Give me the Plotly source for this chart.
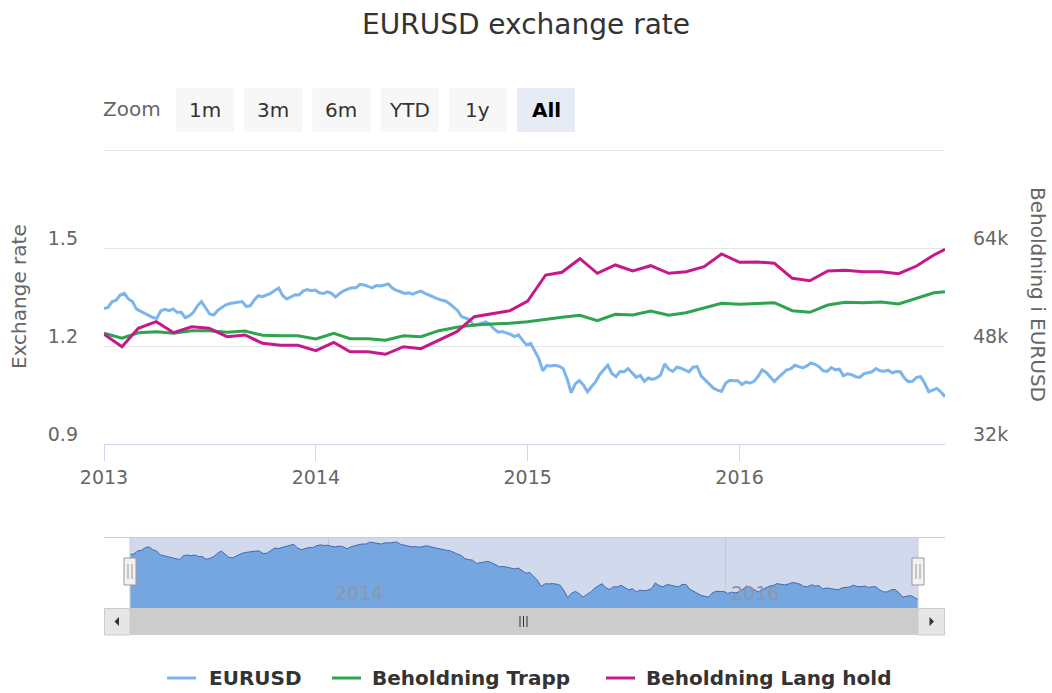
import plotly.graph_objects as go
import pandas as pd

W, H = 1052, 693
FONT = "DejaVu Sans"


def px(x):
    return x / W


def py(y):
    return 1 - y / H


# ---------------- data ----------------
eurusd = [
    1.315, 1.318, 1.336, 1.340, 1.356, 1.361, 1.344, 1.336, 1.313, 1.307,
    1.299, 1.295, 1.287, 1.285, 1.308, 1.312, 1.308, 1.313, 1.303, 1.303,
    1.287, 1.292, 1.303, 1.323, 1.336, 1.317, 1.298, 1.295, 1.309, 1.318,
    1.326, 1.330, 1.332, 1.336, 1.336, 1.321, 1.323, 1.341, 1.354, 1.351,
    1.356, 1.361, 1.370, 1.377, 1.354, 1.344, 1.350, 1.357, 1.356, 1.368,
    1.373, 1.369, 1.371, 1.363, 1.361, 1.366, 1.361, 1.350, 1.361, 1.369,
    1.374, 1.378, 1.378, 1.389, 1.387, 1.382, 1.378, 1.385, 1.384, 1.387,
    1.390, 1.377, 1.370, 1.366, 1.361, 1.363, 1.359, 1.364, 1.368, 1.361,
    1.355, 1.350, 1.345, 1.341, 1.338, 1.330, 1.318, 1.309, 1.290, 1.285,
    1.281, 1.262, 1.266, 1.271, 1.274, 1.266, 1.252, 1.242, 1.244, 1.240,
    1.236, 1.229, 1.234, 1.218, 1.203,
    1.208, 1.184, 1.162, 1.124, 1.140, 1.139, 1.141, 1.138, 1.131, 1.099,
    1.057, 1.084, 1.094, 1.081, 1.060, 1.076, 1.090, 1.113, 1.127, 1.141,
    1.116, 1.106, 1.122, 1.121, 1.131, 1.118, 1.104, 1.110, 1.092, 1.102,
    1.098, 1.102, 1.111, 1.145, 1.129, 1.122, 1.135, 1.132, 1.126, 1.121,
    1.135, 1.137, 1.108, 1.096, 1.085, 1.071, 1.065, 1.061, 1.086, 1.095,
    1.094, 1.094, 1.082, 1.090, 1.086, 1.092, 1.107, 1.127, 1.119, 1.105,
    1.091, 1.104, 1.115, 1.126, 1.130, 1.141, 1.137, 1.133, 1.139, 1.148,
    1.144, 1.137, 1.124, 1.122, 1.134, 1.127, 1.129, 1.109, 1.115, 1.112,
    1.106, 1.104, 1.115, 1.119, 1.121, 1.131, 1.124, 1.123, 1.126, 1.118,
    1.122, 1.121, 1.102, 1.091, 1.092, 1.104, 1.106, 1.086, 1.060, 1.065,
    1.070, 1.059, 1.045,
]
eur_dates = pd.date_range("2013-01-01", periods=len(eurusd), freq="7D")

month_dates = list(pd.date_range("2013-01-01", periods=48, freq="MS").strftime("%Y-%m-%d")) + ["2016-12-20"]

trapp = [
    50070, 49260, 50170, 50340, 50070, 50500, 50500, 50240, 50450, 49750, 49680, 49680,
    49140, 50070, 49190, 49190, 48930, 49680, 49520, 50500, 51050, 51430, 51590, 51710,
    51970, 52410, 52690, 53010, 52130, 53180, 53060, 53720, 53010, 53440, 54160, 54970,
    54810, 54970, 55070, 53760, 53500, 54690, 55140, 55070, 55180, 54860, 55790, 56700,
    56870,
]
lang_hold = [
    49910, 47890, 50890, 51970, 50170, 51150, 50890, 49520, 49800, 48440, 48110, 48110,
    47230, 48600, 47070, 47070, 46650, 47890, 47560, 48980, 50340, 52780, 53340, 53760,
    55350, 59590, 60030, 62250, 59870, 61230, 60250, 61110, 59870, 60130, 60950, 63020,
    61670, 61720, 61500, 59050, 58660, 60250, 60360, 60130, 60130, 59800, 61060, 62860,
    63790,
]

x_range = ["2013-01-01", "2016-12-20"]
year_ticks = ["2013-01-01", "2014-01-01", "2015-01-01", "2016-01-01"]
year_labels = ["2013", "2014", "2015", "2016"]
left_ticks = [0.9, 1.2, 1.5, 1.8]
left_labels = ["0.9", "1.2", "1.5", ""]
right_ticks = [32000, 48000, 64000, 80000]
right_labels = ["32k", "48k", "64k", ""]
nav_ticks = ["2014-01-01", "2016-01-01"]
nav_labels = ["2014", "2016"]
zoom_buttons = ["1m", "3m", "6m", "YTD", "1y", "All"]
series_names = ["EURUSD", "Beholdning Trapp", "Beholdning Lang hold"]
colors = ["#7cb5ec", "#2ea44f", "#c7188b"]

# ---------------- traces ----------------
fig = go.Figure()
fig.add_trace(go.Scatter(x=eur_dates, y=eurusd, name=series_names[0], mode="lines",
                         line=dict(color=colors[0], width=3), xaxis="x", yaxis="y"))
fig.add_trace(go.Scatter(x=month_dates, y=trapp, name=series_names[1], mode="lines",
                         line=dict(color=colors[1], width=3), xaxis="x", yaxis="y2"))
fig.add_trace(go.Scatter(x=month_dates, y=lang_hold, name=series_names[2], mode="lines",
                         line=dict(color=colors[2], width=3), xaxis="x", yaxis="y2"))
# navigator series
fig.add_trace(go.Scatter(x=eur_dates, y=eurusd, mode="lines", fill="tozeroy",
                         fillcolor="#7cb5ec", line=dict(color="#335cad", width=1),
                         xaxis="x2", yaxis="y3", hoverinfo="skip"))

shapes = []
annotations = []


def rect(x0, y0, x1, y1, fill, line=None, lw=1, layer="above"):
    shapes.append(dict(type="rect", xref="paper", yref="paper",
                       x0=px(x0), x1=px(x1), y0=py(y1), y1=py(y0),
                       fillcolor=fill, layer=layer,
                       line=dict(color=line or fill, width=lw if line else 0)))


def seg(x0, y0, x1, y1, color, w=1, layer="above"):
    shapes.append(dict(type="line", xref="paper", yref="paper",
                       x0=px(x0), x1=px(x1), y0=py(y0), y1=py(y1),
                       line=dict(color=color, width=w), layer=layer))


def tri(pts, color):
    d = "M " + " L ".join(f"{px(a):.5f},{py(b):.5f}" for a, b in pts) + " Z"
    shapes.append(dict(type="path", xref="paper", yref="paper", path=d,
                       fillcolor=color, line=dict(color=color, width=0), layer="above"))


def text(x, y, s, size, color, xanchor="center", bold=False, angle=0, xref="paper", xshift=0):
    annotations.append(dict(x=x, y=y, xref=xref, yref="paper", text=s, showarrow=False,
                            xanchor=xanchor, yanchor="middle", textangle=angle, xshift=xshift,
                            font=dict(family=FONT, size=size, color=color,
                                      weight="bold" if bold else "normal")))


# top grid line of the plot area (1.8 / 80k, unlabeled)
seg(104, 150.5, 945, 150.5, "#e6e6e6", layer="below")

# title
text(0.5, py(25), "EURUSD exchange rate", 28, "#333333")

# range selector
text(px(163), py(109), "Zoom", 20, "#666666", xanchor="right")
btn_left = 176
for i, lab in enumerate(zoom_buttons):
    x0 = btn_left + i * 68.2
    sel = lab == "All"
    rect(x0, 88, x0 + 58, 132, "#e6ebf5" if sel else "#f7f7f7")
    text(px(x0 + 29), py(110), lab, 20, "#000000" if sel else "#333333", bold=sel)

# axis titles
text(px(19), py(297), "Exchange rate", 20, "#666666", angle=-90)
text(px(1038), py(294), "Beholdning i EURUSD", 20, "#666666", angle=90)

# navigator decorations
rect(130, 537, 918, 608, "rgba(102,133,194,0.3)")
seg(104, 537.5, 945, 537.5, "#cccccc")
seg(130, 537, 130, 608, "#cccccc")
seg(918, 537, 918, 608, "#cccccc")
for c in (130, 918):
    rect(c - 6, 558, c + 6, 585, "#f2f2f2", line="#999999")
    seg(c - 2, 564, c - 2, 579, "#999999")
    seg(c + 2, 564, c + 2, 579, "#999999")
for d, lab in zip(nav_ticks, nav_labels):
    text(d, py(593), lab, 19, "#8f96a8", xanchor="left", xref="x2", xshift=4)

# scrollbar
rect(104, 608, 945, 635, "#f2f2f2")
rect(130, 608, 918, 635, "#cccccc")
rect(104.5, 608.5, 130, 635, "#e6e6e6", line="#cccccc")
rect(918, 608.5, 944.5, 635, "#e6e6e6", line="#cccccc")
tri([(114.5, 621.5), (119, 617), (119, 626)], "#333333")
tri([(934, 621.5), (929.5, 617), (929.5, 626)], "#333333")
for xx in (520, 523.5, 527):
    seg(xx, 616, xx, 627, "#333333")

# legend
leg_sym = [(167, 196), (332, 361), (606, 635)]
leg_txt = [207, 370, 644]
for (a, b), tx, name, col in zip(leg_sym, leg_txt, series_names, colors):
    seg(a, 678, b, 678, col, 3)
    text(px(tx), py(678), name, 20, "#333333", xanchor="left", bold=True)

tickfont = dict(family=FONT, size=19, color="#666666")
fig.update_layout(
    autosize=True, margin=dict(l=0, r=0, t=0, b=0, pad=0, autoexpand=False),
    paper_bgcolor="white", plot_bgcolor="white", showlegend=False,
    font=dict(family=FONT, color="#666666"),
    xaxis=dict(domain=[px(104), px(945)], range=x_range, type="date", anchor="y",
               tickmode="array", tickvals=year_ticks, ticktext=year_labels,
               ticks="outside", ticklen=16, tickwidth=1, tickcolor="#ccd6eb",
               showline=True, linecolor="#ccd6eb", linewidth=1, automargin=False,
               showgrid=False, zeroline=False, tickfont=tickfont),
    yaxis=dict(domain=[py(444), py(150)], range=[0.9, 1.80001], anchor="x",
               tickmode="array", tickvals=left_ticks, ticktext=left_labels,
               showgrid=True, gridcolor="#e6e6e6", gridwidth=1, zeroline=False,
               showline=False, ticks="", tickfont=tickfont, automargin=False,
               ticklabelshift=-10, ticklabelstandoff=25),
    yaxis2=dict(overlaying="y", side="right", anchor="x", range=[32000, 80000.5],
                tickmode="array", tickvals=right_ticks, ticktext=right_labels,
                showgrid=False, zeroline=False, showline=False, ticks="", automargin=False,
                tickfont=tickfont, ticklabelshift=-10, ticklabelstandoff=27),
    xaxis2=dict(domain=[px(130), px(918)], range=x_range, type="date", anchor="y3",
                showgrid=True, gridcolor="#e6e6e6", tickmode="array", tickvals=nav_ticks,
                showticklabels=False, ticks="", zeroline=False, showline=False, automargin=False),
    yaxis3=dict(domain=[py(608), py(537)], range=[0.995, 1.42], visible=False, anchor="x2",
                automargin=False),
    shapes=shapes, annotations=annotations,
)

fig.write_html(
    "out.html",
    config={"displayModeBar": False, "responsive": True},
    default_width="100vw", default_height="100vh",
    post_script=(
        "document.documentElement.style.margin='0';"
        "document.body.style.margin='0';"
        "document.body.style.overflow='hidden';"
        "Plotly.Plots.resize(document.getElementById('{plot_id}'));"
    ),
)
